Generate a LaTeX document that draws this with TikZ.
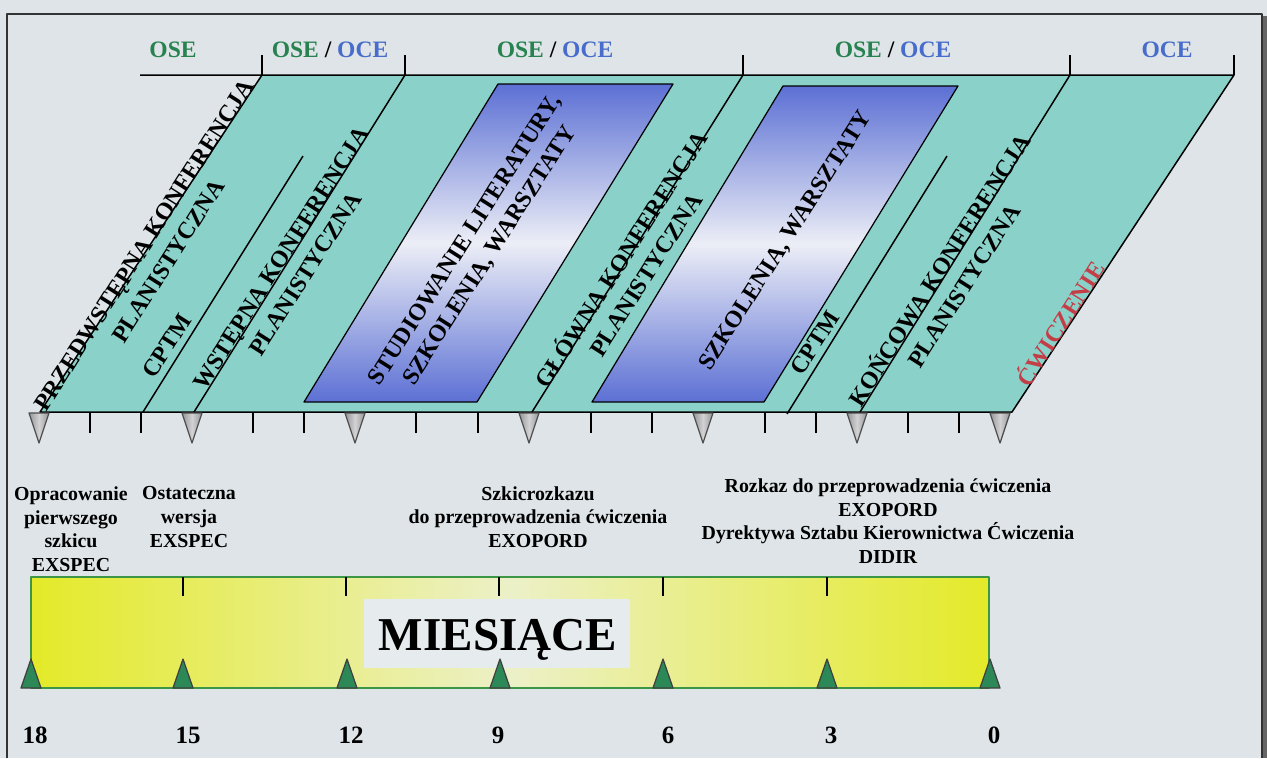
\documentclass[tikz,border=0pt]{standalone}
\usepackage{fontspec}
\setmainfont{Liberation Serif}
\usetikzlibrary{positioning}
\definecolor{paper}{RGB}{222,228,231}
\definecolor{bandteal}{RGB}{138,210,201}
\definecolor{blueblock}{RGB}{92,112,212}
\definecolor{blockwhite}{RGB}{236,238,246}
\definecolor{osegreen}{RGB}{40,130,80}
\definecolor{oceblue}{RGB}{72,108,204}
\definecolor{exred}{RGB}{196,62,72}
\definecolor{graytri}{RGB}{150,150,152}
\definecolor{graylight}{RGB}{210,210,212}
\definecolor{greentri}{RGB}{44,136,86}
\definecolor{baryellow}{RGB}{228,234,40}
\definecolor{barpale}{RGB}{236,240,200}
\definecolor{bargreen}{RGB}{60,150,70}
\definecolor{boxwhite}{RGB}{230,235,238}
\tikzset{
    %Define style for thin black rules
    rule/.style={black, line width=0.85pt},
    %Define style for slanted phase labels
    phase/.style={font=\bfseries\fontsize{13.6}{16.4}\selectfont, align=center, rotate=57.5, inner sep=0pt},
    %Define style for milestone texts
    milestone/.style={font=\bfseries\fontsize{11.3}{13.4}\selectfont, align=center, inner sep=0pt},
    %Define style for owners over the band
    owner/.style={font=\bfseries\fontsize{13.4}{16}\selectfont, inner sep=0pt, anchor=base},
    %Define style for month numbers
    month/.style={font=\bfseries\fontsize{14.2}{17}\selectfont, inner sep=0pt, anchor=base},
    %Define style for markers
    graymark/.style={draw=black!70, line width=0.7pt, left color=graytri, right color=graytri, middle color=graylight},
    greenmark/.style={draw=black!75, line width=0.7pt, fill=greentri},
}
\begin{document}
\begin{tikzpicture}[x=0.02cm, y=-0.02cm, line join=round]
    \useasboundingbox (0,0) rectangle (1267,758);
    \fill[paper] (0,0) rectangle (1267,758);

    % frame
    \draw[black!80, line width=0.6pt] (7,758) -- (7,14) -- (1262,14) -- (1262,758);
    \draw[black!60, line width=2.5pt] (1265,16) -- (1265,758);

    % band of phases
    \fill[bandteal] (40,412) -- (262,75) -- (1234,75) -- (1012,412) -- cycle;
    \path[draw=black, line width=0.7pt, top color=blueblock, bottom color=blueblock, middle color=blockwhite]
        (304,402) -- (498,84) -- (673,84) -- (477,402) -- cycle;
    \path[draw=black, line width=0.7pt, top color=blueblock, bottom color=blueblock, middle color=blockwhite]
        (592,402) -- (783,86) -- (958,86) -- (764,402) -- cycle;
    \draw[rule] (140,75) -- (1234,75) -- (1012,412) -- (40,412) -- (262,75);
    \draw[rule] (405,75) -- (194,412);
    \draw[rule] (143,412) -- (303,156);
    \draw[rule] (743,75) -- (532,412);
    \draw[rule] (787,414) -- (947,156);
    \draw[rule] (1070,75) -- (860,412);
    \foreach \x in {262,405,743,1070,1234}
        \draw[rule] (\x,55) -- (\x,75);

    % owners
    \node[owner, text=osegreen] (own1) at (173,57) {OSE};
    \node[owner] (own2) at (330,57) {\textcolor{osegreen}{OSE} / \textcolor{oceblue}{OCE}};
    \node[owner] (own3) at (555,57) {\textcolor{osegreen}{OSE} / \textcolor{oceblue}{OCE}};
    \node[owner] (own4) at (893,57) {\textcolor{osegreen}{OSE} / \textcolor{oceblue}{OCE}};
    \node[owner, text=oceblue] (own5) at (1167,57) {OCE};

    % phases
    \node[phase] (ph1) at (156,253) {PRZEDWSTĘPNA KONFERENCJA\\PLANISTYCZNA};
    \node[phase] (ph2) at (167,346) {CPTM};
    \node[phase] (ph3) at (293,266) {WSTĘPNA KONFERENCJA\\PLANISTYCZNA};
    \node[phase] (ph4) at (478,248) {STUDIOWANIE LITERATURY,\\SZKOLENIA, WARSZTATY};
    \node[phase] (ph5) at (632,266) {GŁÓWNA KONFERENCJA\\PLANISTYCZNA};
    \node[phase] (ph6) at (786,241) {SZKOLENIA, WARSZTATY};
    \node[phase] (ph7) at (815,343) {CPTM};
    \node[phase] (ph8) at (950,277) {KOŃCOWA KONFERENCJA\\PLANISTYCZNA};
    \node[phase, text=exred] (ph9) at (1059,323) {ĆWICZENIE};

    % scale under the band
    \foreach \x in {90,141,253,304,416,478,591,652,765,816,908,959}
        \draw[rule] (\x,412) -- (\x,433);
    \foreach \x in {39,192,355,529,703,857,1000}
        \path[graymark] (\x-10,413) -- (\x+10,413) -- (\x,443) -- cycle;

    % milestones
    \node[milestone] (ms1) at (71,529) {Opracowanie\\pierwszego\\szkicu\\EXSPEC};
    \node[milestone] (ms2) at (189,517) {Ostateczna\\wersja\\EXSPEC};
    \node[milestone] (ms3) at (538,517) {Szkicrozkazu\\do przeprowadzenia ćwiczenia\\EXOPORD};
    \node[milestone] (ms4) at (888,521) {Rozkaz do przeprowadzenia ćwiczenia\\EXOPORD\\Dyrektywa Sztabu Kierownictwa Ćwiczenia\\DIDIR};

    % months bar
    \path[draw=bargreen, line width=0.7pt, left color=baryellow, right color=baryellow, middle color=barpale]
        (31,577) rectangle (989,688);
    \foreach \x in {183,346,499,663,827}
        \draw[rule] (\x,577) -- (\x,596);
    \fill[boxwhite] (364,599) rectangle (630,668);
    \node[font=\bfseries\fontsize{26.8}{30}\selectfont, inner sep=0pt, anchor=base] (bar) at (498,650) {MIESIĄCE};
    \foreach \x in {31,183,347,500,663,827,990}
        \path[greenmark] (\x-10,688) -- (\x+10,688) -- (\x,659) -- cycle;

    % month numbers
    \node[month] (m18) at (35,743) {18};
    \node[month] (m15) at (188,743) {15};
    \node[month] (m12) at (351,743) {12};
    \node[month] (m9) at (498,743) {9};
    \node[month] (m6) at (668,743) {6};
    \node[month] (m3) at (831,743) {3};
    \node[month] (m0) at (994,743) {0};
\end{tikzpicture}
\end{document}
